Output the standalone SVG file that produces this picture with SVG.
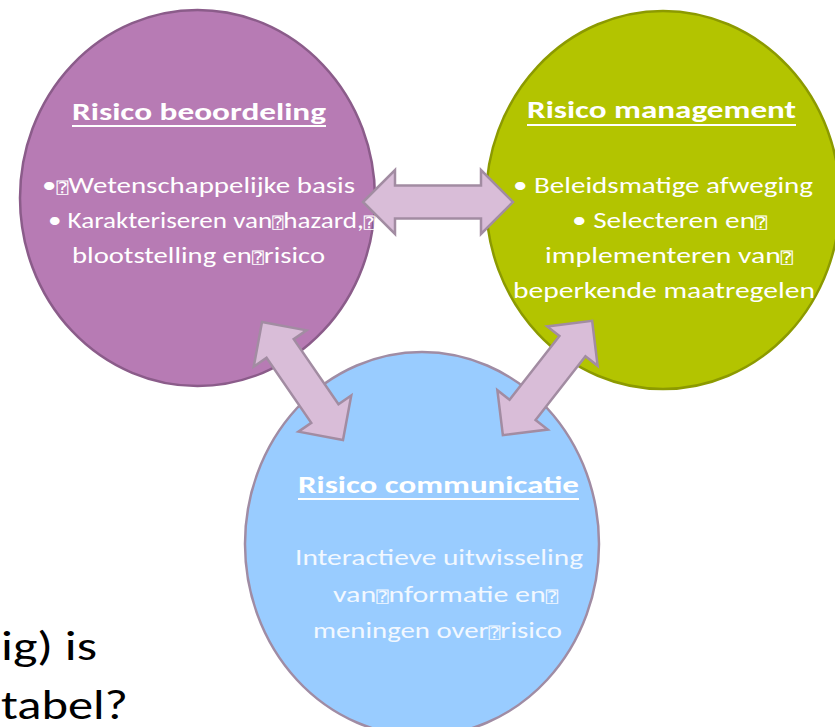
<svg xmlns="http://www.w3.org/2000/svg" width="835" height="727" viewBox="0 0 835 727">
<defs>
<style>
.t{font-family:Carlito,Lato,"Liberation Sans",sans-serif;fill:#ffffff;font-size:22px}
.h{font-weight:bold;font-size:25px}
.b{fill:#f2f8ff}
.q{font-family:"DejaVu Sans Mono","DejaVu Sans",sans-serif;font-size:15px}
.ul{stroke:#ffffff;stroke-width:2}
.arr{fill:#d9bdd8;stroke:#a28ca2;stroke-width:2.5;stroke-linejoin:miter}
.side{font-family:Carlito,Lato,"Liberation Sans",sans-serif;font-size:40px;fill:#000000}
</style>
</defs>
<rect width="835" height="727" fill="#ffffff"/>
<g id="side-text">
<text class="side" x="1" y="660" textLength="96" lengthAdjust="spacingAndGlyphs">ig) is</text>
<text class="side" x="1" y="719" textLength="127" lengthAdjust="spacingAndGlyphs">tabel?</text>
</g>
<g id="risico-beoordeling">
<ellipse cx="197.5" cy="198" rx="177.5" ry="188" fill="#b77bb4" stroke="#8b5c8a" stroke-width="2.5"/>
<text class="t h" x="72" y="120" textLength="254" lengthAdjust="spacingAndGlyphs">Risico beoordeling</text>
<line class="ul" x1="72" y1="126" x2="326" y2="126"/>
<text class="t" x="42" y="193" textLength="313" lengthAdjust="spacingAndGlyphs">•<tspan class="q">⍰</tspan>Wetenschappelijke  basis</text>
<text class="t" x="48" y="228" textLength="327" lengthAdjust="spacingAndGlyphs">• Karakteriseren van<tspan class="q">⍰</tspan>hazard,<tspan class="q">⍰</tspan></text>
<text class="t" x="72" y="263" textLength="253" lengthAdjust="spacingAndGlyphs">blootstelling  en<tspan class="q">⍰</tspan>risico</text>
</g>
<g id="risico-management">
<ellipse cx="663" cy="200" rx="177" ry="189" fill="#b3c400" stroke="#8c9a00" stroke-width="2.5"/>
<text class="t h" x="527" y="118" textLength="269" lengthAdjust="spacingAndGlyphs">Risico management</text>
<line class="ul" x1="527" y1="125" x2="796" y2="125"/>
<text class="t" x="513" y="193" textLength="300" lengthAdjust="spacingAndGlyphs">• Beleidsmatige afweging</text>
<text class="t" x="572" y="228" textLength="195" lengthAdjust="spacingAndGlyphs">• Selecteren en<tspan class="q">⍰</tspan></text>
<text class="t" x="545" y="263" textLength="248" lengthAdjust="spacingAndGlyphs">implementeren van<tspan class="q">⍰</tspan></text>
<text class="t" x="513" y="298" textLength="302" lengthAdjust="spacingAndGlyphs">beperkende  maatregelen</text>
</g>
<g id="risico-communicatie">
<ellipse cx="422" cy="544" rx="177" ry="192" fill="#99ccff" stroke="#a08ca4" stroke-width="2.5"/>
<text class="t h" x="298" y="493" textLength="281" lengthAdjust="spacingAndGlyphs">Risico communicatie</text>
<line class="ul" x1="298" y1="499" x2="579" y2="499"/>
<text class="t b" x="295" y="565" textLength="288" lengthAdjust="spacingAndGlyphs">Interactieve uitwisseling</text>
<text class="t b" x="333" y="602" textLength="225" lengthAdjust="spacingAndGlyphs">van<tspan class="q">⍰</tspan>nformatie  en<tspan class="q">⍰</tspan></text>
<text class="t b" x="313" y="638" textLength="249" lengthAdjust="spacingAndGlyphs">meningen  over<tspan class="q">⍰</tspan>risico</text>
</g>
<g id="connectors">
<path class="arr" transform="translate(438,202)" d="M-75 0 L-43 -32 L-43 -16.5 L43 -16.5 L43 -32 L75 0 L43 32 L43 16.5 L-43 16.5 L-43 32 Z"/>
<path class="arr" transform="translate(302.5,381) rotate(55.5)" d="M-71.5 0 L-39.5 -32 L-39.5 -16.5 L39.5 -16.5 L39.5 -32 L71.5 0 L39.5 32 L39.5 16.5 L-39.5 16.5 L-39.5 32 Z"/>
<path class="arr" transform="translate(547.5,378) rotate(128)" d="M-72.5 0 L-40.5 -32 L-40.5 -16.5 L40.5 -16.5 L40.5 -32 L72.5 0 L40.5 32 L40.5 16.5 L-40.5 16.5 L-40.5 32 Z"/>
</g>
</svg>
